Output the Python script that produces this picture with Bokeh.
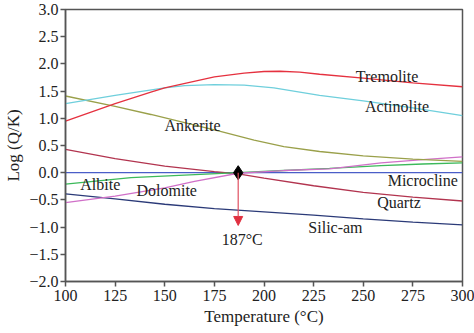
from bokeh.plotting import figure
from bokeh.models import FixedTicker, Arrow, NormalHead, Label, Range1d, LinearAxis
from bokeh.embed import file_html
from bokeh.resources import INLINE

# ---- data ----
trem_t = [100, 125, 143, 150, 175, 190, 200, 208, 218, 228, 250, 275, 300]
trem_v = [0.95, 1.27, 1.48, 1.56, 1.76, 1.83, 1.86, 1.865, 1.85, 1.81, 1.74, 1.65, 1.58]

act_t = [100, 125, 150, 160, 175, 190, 205, 228, 250, 275, 300]
act_v = [1.27, 1.42, 1.56, 1.60, 1.62, 1.61, 1.56, 1.42, 1.32, 1.19, 1.05]

ank_t = [100, 125, 143, 160, 178, 195, 210, 228, 250, 275, 300]
ank_v = [1.41, 1.22, 1.07, 0.92, 0.76, 0.60, 0.48, 0.39, 0.31, 0.25, 0.21]

qtz_t = [100, 125, 150, 175, 187, 200, 225, 250, 275, 300]
qtz_v = [0.43, 0.26, 0.12, 0.02, -0.02, -0.10, -0.24, -0.36, -0.45, -0.52]

mic_t = [100, 300]
mic_v = [0.0, 0.0]

alb_t = [100, 133, 168, 187, 210, 233, 259, 280, 300]
alb_v = [-0.21, -0.09, -0.03, 0.0, 0.04, 0.08, 0.13, 0.16, 0.18]

dol_t = [100, 125, 150, 165, 187, 210, 233, 259, 280, 300]
dol_v = [-0.55, -0.43, -0.28, -0.16, -0.01, 0.04, 0.07, 0.18, 0.24, 0.29]

sil_t = [100, 125, 150, 175, 200, 225, 250, 275, 300]
sil_v = [-0.39, -0.48, -0.58, -0.66, -0.72, -0.78, -0.85, -0.91, -0.96]

eq_t = 187
eq_v = 0.0
arrow_end_v = -0.97

x_ticks = [100, 125, 150, 175, 200, 225, 250, 275, 300]
y_ticks = [-2.0, -1.5, -1.0, -0.5, 0.0, 0.5, 1.0, 1.5, 2.0, 2.5, 3.0]

labels = ["Tremolite", "Actinolite", "Ankerite", "Albite", "Dolomite",
          "Microcline", "Quartz", "Silic-am", "187°C"]
label_t = [262, 267, 164, 117.5, 151, 280, 268, 236, 189]
label_v = [1.76, 1.22, 0.87, -0.22, -0.33, -0.15, -0.55, -1.0, -1.22]

FONT = "Liberation Serif"

p = figure(width=474, height=333, output_backend="svg", toolbar_location=None,
           x_range=Range1d(100, 300), y_range=Range1d(-2.0, 3.0),
           x_axis_location=None, y_axis_location=None,
           min_border_left=65, min_border_right=12, min_border_top=9,
           min_border_bottom=52)
p.grid.visible = False
p.outline_line_color = "#555555"
p.outline_line_width = 1.5
p.background_fill_color = "white"
p.border_fill_color = "white"

axis_style = dict(
    axis_line_color="#555555", axis_line_width=1.5,
    major_tick_line_color="#555555", major_tick_line_width=1.5,
    major_tick_out=5, major_tick_in=0, minor_tick_line_color=None,
    major_label_text_font=FONT, major_label_text_font_size="16px",
    major_label_text_color="#222222",
    axis_label_text_font=FONT, axis_label_text_font_size="17px",
    axis_label_text_font_style="normal", axis_label_text_color="#222222",
)

xax = LinearAxis(ticker=FixedTicker(ticks=x_ticks),
                 axis_label="Temperature (°C)",
                 major_label_overrides={v: str(v) for v in x_ticks},
                 major_label_standoff=3, axis_label_standoff=3, **axis_style)
yax = LinearAxis(ticker=FixedTicker(ticks=y_ticks),
                 axis_label="Log (Q/K)",
                 major_label_overrides={v: ("%.1f" % v).replace("-", "\u2212") for v in y_ticks},
                 major_label_standoff=2, axis_label_standoff=3, **axis_style)
p.add_layout(xax, "below")
p.add_layout(yax, "left")

series = [
    (mic_t, mic_v, "#4a5ec8"),
    (sil_t, sil_v, "#2b3a78"),
    (qtz_t, qtz_v, "#b2344f"),
    (alb_t, alb_v, "#3cb95a"),
    (dol_t, dol_v, "#d070c8"),
    (ank_t, ank_v, "#9aa04a"),
    (act_t, act_v, "#6fcfdc"),
    (trem_t, trem_v, "#e5313f"),
]
for t, v, c in series:
    p.line(t, v, line_color=c, line_width=1.3)

p.add_layout(Arrow(end=NormalHead(size=9, fill_color="#e03040", line_color="#e03040"),
                   x_start=eq_t, y_start=eq_v, x_end=eq_t, y_end=arrow_end_v,
                   line_color="#e05060", line_width=1.2))
p.scatter([eq_t], [eq_v], marker="diamond", size=14, fill_color="black", line_color="black")

for txt, t, v in zip(labels, label_t, label_v):
    p.add_layout(Label(x=t, y=v, text=txt, text_font=FONT, text_font_size="16px",
                       text_color="#222222", text_align="center", text_baseline="middle"))

open("out.html", "w").write(file_html(p, INLINE))
